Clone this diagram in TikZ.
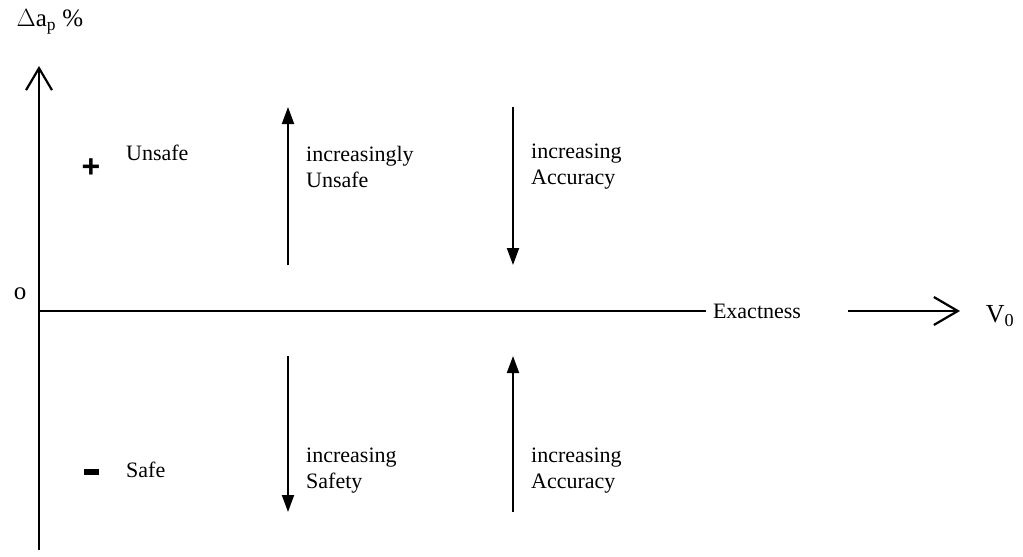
\documentclass[tikz,border=0pt]{standalone}
\usepackage{fontspec}
\setmainfont{Liberation Serif}
\newfontfamily\boldsans{Liberation Sans}
\usetikzlibrary{arrows.meta}
\tikzset{
  axis/.style={line width=2.2pt},
  flow/.style={line width=2pt, -{Triangle[length=17pt,width=12pt]}},
  lbl/.style={anchor=west, align=left, inner sep=0pt, font=\fontsize{22}{26}\selectfont},
  word/.style={inner sep=0pt, font=\fontsize{22}{26}\selectfont},
}
\begin{document}
\begin{tikzpicture}[x=1pt,y=-1pt]
\useasboundingbox (0,0) rectangle (1023,557);
% axes
\coordinate (ytop) at (39,66);
\coordinate (ybot) at (39,550);
\coordinate (orig) at (39,311);
\coordinate (xend) at (960,311);
\draw[axis, -{Straight Barb[length=22pt,width=26pt,line width=2.2pt]}] (ybot) -- (ytop);
\node[word, font=\fontsize{25}{26}\selectfont] (ylab) at (50,22) {$\Delta$a\textsubscript{p} \%};
\node[word, font=\fontsize{25}{26}\selectfont] (o) at (20,294) {o};
\node[word, inner xsep=7pt] (ex) at (757,311) {Exactness};
\draw[axis] (orig) -- (ex.west);
\draw[axis, -{Straight Barb[length=24pt,width=28pt,line width=2.2pt]}] (ex.east) ++(40,0) coordinate (xs) -- (xend);
\node[word, font=\fontsize{26}{26}\selectfont] (v0) at (1000,316) {V\textsubscript{0}};
% signs
\node[inner sep=0pt, font=\boldsans\bfseries\fontsize{32}{32}\selectfont] (plus) at (91,168) {+};
\node[inner sep=0pt] (minus) at (91,472) {\rule{15pt}{6pt}};
\node[lbl] (unsafe) at (126,153) {Unsafe};
\node[lbl] (safe) at (126,470) {Safe};
% flow arrows
\coordinate (a1s) at (288,265); \coordinate (a1e) at (288,107);
\coordinate (a2s) at (513,107); \coordinate (a2e) at (513,265);
\coordinate (a3s) at (288,356); \coordinate (a3e) at (288,512);
\coordinate (a4s) at (513,512); \coordinate (a4e) at (513,356);
\draw[flow] (a1s) -- (a1e);
\draw[flow] (a2s) -- (a2e);
\draw[flow] (a3s) -- (a3e);
\draw[flow] (a4s) -- (a4e);
\node[lbl] (t1) at (306,167) {increasingly\\Unsafe};
\node[lbl] (t2) at (531,167) {increasing\\Accuracy};
\node[lbl] (t3) at (306,471) {increasing\\Safety};
\node[lbl] (t4) at (531,471) {increasing\\Accuracy};
\end{tikzpicture}
\end{document}
